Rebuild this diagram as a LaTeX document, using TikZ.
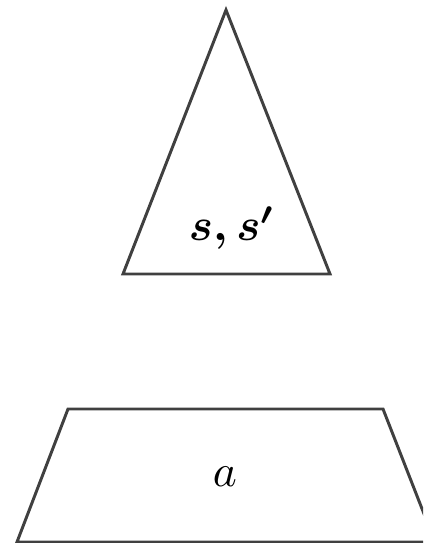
\documentclass[tikz,border=0pt]{standalone}
\usepackage{amsmath,amssymb,amsfonts}
\usepackage{tikz}

\begin{document}
\begin{tikzpicture}[x=0.22pt, y=-0.22pt, every node/.style={font=\normalsize}]
\tikzstyle{outline}=[draw=black!75, line width=0.65pt, line join=miter]
\clip (0,0) rectangle (423,543);
\useasboundingbox (0,0) rectangle (423,543);
% upper triangle
\draw[outline] (226,10) -- (330,274) -- (123,274) -- cycle;
\node (ss) at (232,228) {$\boldsymbol{s, s'}$};
% lower trapezoid
\draw[outline] (68,409) -- (383,409) -- (435,542) -- (17,542) -- cycle;
\node (act) at (225,477) {$a$};
\end{tikzpicture}
\end{document}
